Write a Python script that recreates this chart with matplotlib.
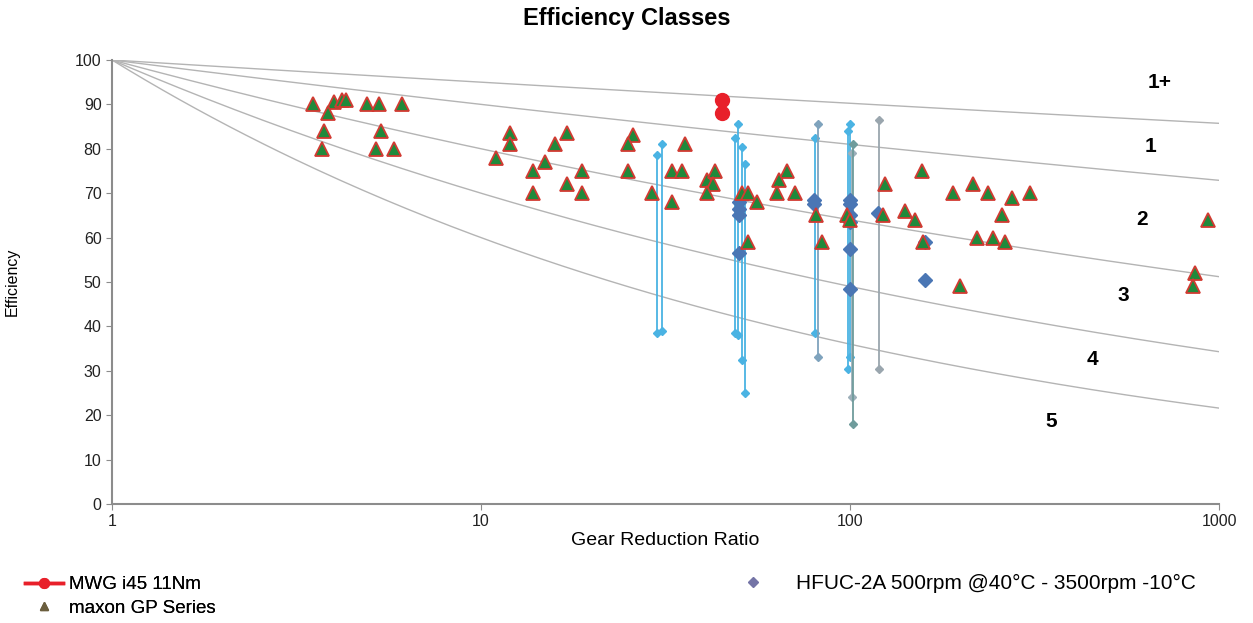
import numpy as np
import matplotlib
matplotlib.use("Agg")
import matplotlib.pyplot as plt
from matplotlib.lines import Line2D

plt.rcParams['font.family'] = ['Liberation Sans', 'DejaVu Sans']

# efficiency classes: efficiency kept per decade of reduction
class_names = ['1+', '1', '2', '3', '4', '5']
class_per_decade = [0.95, 0.90, 0.80, 0.70, 0.60]
class_label_x = [690, 650, 620, 550, 455, 350]
class_label_y = [95, 80.5, 64, 47, 32.5, 18.5]

# MWG i45 11Nm
mwg_ratio = [45, 45]
mwg_eff = [91, 88]

# maxon GP Series
maxon_ratio = [3.5, 4.0, 4.2, 4.3, 4.9, 5.3, 6.1, 3.85, 3.75, 3.7, 5.35, 5.2, 5.8,
               12, 12, 11, 13.8, 14.9, 15.9, 17.1, 18.8, 13.8, 17.1, 18.8,
               25.8, 25, 25, 29, 33, 35.7, 33, 35, 41, 43, 42.5, 41,
               51, 53, 56, 53, 67.5, 64, 63.5, 71, 81, 84, 98, 100,
               124, 123, 141, 150, 158, 157, 190, 215, 237, 275, 308,
               258, 221, 244, 263, 199, 933, 861, 850]
maxon_eff = [90, 90.5, 91, 91, 90, 90, 90, 88, 84, 80, 84, 80, 80,
             83.5, 81, 78, 75, 77, 81, 83.5, 75, 70, 72, 70,
             83, 81, 75, 70, 68, 81, 75, 75, 73, 75, 72, 70,
             70, 70, 68, 59, 75, 73, 70, 70, 65, 59, 65, 64,
             72, 65, 66, 64, 59, 75, 70, 72, 70, 69, 70,
             65, 60, 60, 59, 49, 64, 52, 49]

# HFUC ranges (top: 500rpm @40°C, bottom: 3500rpm -10°C)
hfuc_range_ratio = [30, 31, 48.8, 49.7, 51, 52, 80.4, 82, 99, 100, 101, 102, 120]
hfuc_range_top = [78.5, 81, 82.5, 85.5, 80.5, 76.5, 82.5, 85.5, 84, 85.5, 79, 81, 86.5]
hfuc_range_bottom = [38.5, 39, 38.5, 38, 32.5, 25, 38.5, 33, 30.5, 33, 24, 18, 30.5]
hfuc_range_color = ['#4ab3e3', '#4ab3e3', '#4ab3e3', '#4ab3e3', '#4ab3e3', '#4ab3e3',
                    '#4ab3e3', '#7fa3bd', '#4ab3e3', '#4ab3e3', '#9eb0ba', '#6f9c9c', '#9aa6ae']

# HFUC-2A
hfuc2a_ratio = [50, 50, 50, 50, 80, 80, 100, 100, 100, 100, 100, 100, 119, 160, 160]
hfuc2a_eff = [68, 66.5, 65, 56.5, 68.5, 67.5, 68.5, 67.5, 65, 63.5, 57.5, 48.5, 65.5, 59, 50.5]

fig = plt.figure(figsize=(12.53, 6.23), dpi=100)
ax = fig.add_axes([0.0894, 0.191, 0.8835, 0.7127])

xs = np.logspace(0, 3, 200)
for q in class_per_decade:
    ax.plot(xs, 100 * q ** np.log10(xs), color='#b4b4b4', lw=1, zorder=1)

for r, t, b, c in zip(hfuc_range_ratio, hfuc_range_top, hfuc_range_bottom, hfuc_range_color):
    ax.plot([r, r], [t, b], color=c, lw=1.3, marker='D', ms=4.5, zorder=2)

ax.plot(hfuc2a_ratio, hfuc2a_eff, ls='none', marker='D', ms=7.5, color='#4a76b4', zorder=3)

ax.plot(maxon_ratio, maxon_eff, ls='none', marker='^', ms=10, mfc='#1f8a3b',
        mec='#d23a32', mew=1.3, zorder=4)

ax.plot(mwg_ratio, mwg_eff, color='#e8202a', lw=2, marker='o', ms=10, zorder=5)

for name, lx, ly in zip(class_names, class_label_x, class_label_y):
    ax.text(lx, ly, name, fontsize=15, fontweight='bold', ha='center', va='center')

ax.set_xscale('log')
ax.set_xlim(1, 1000)
ax.set_ylim(0, 100)
ax.set_yticks(range(0, 101, 10))
ax.set_xticks([1, 10, 100, 1000])
ax.set_xticklabels(['1', '10', '100', '1000'])
ax.minorticks_off()
for s in ['top', 'right']:
    ax.spines[s].set_visible(False)
for s in ['left', 'bottom']:
    ax.spines[s].set_color('#8c8c8c')
    ax.spines[s].set_linewidth(1.5)
ax.tick_params(axis='both', colors='#8c8c8c', labelcolor='#222222', labelsize=11.5, length=4)

ax.set_xlabel('Gear Reduction Ratio', fontsize=14, labelpad=2)
ax.set_ylabel('Efficiency', fontsize=11.5)
ax.yaxis.set_label_coords(-0.083, 0.5)
fig.text(0.5, 0.971, 'Efficiency Classes', fontsize=17, fontweight='bold',
         ha='center', va='center')

h1 = Line2D([], [], color='#e8202a', lw=2.5, marker='o', ms=7)
h2 = Line2D([], [], ls='none', marker='^', ms=6, color='#6b5e3e')
h3 = Line2D([], [], ls='none', marker='D', ms=5, color='#7474a6')
leg1 = fig.legend([h1, h2], ['MWG i45 11Nm', 'maxon GP Series'], loc='upper left',
                  bbox_to_anchor=(0.02, 0.075), frameon=False, fontsize=13.5,
                  handlelength=2.0, labelspacing=0.33, borderaxespad=0, borderpad=0,
                  handletextpad=0.35)
leg2 = fig.legend([h3], ['HFUC-2A 500rpm @40°C - 3500rpm -10°C'], loc='upper left',
                  bbox_to_anchor=(0.593, 0.078), frameon=False, fontsize=15,
                  handlelength=0.95, borderaxespad=0, borderpad=0, handletextpad=1.6)
fig.add_artist(leg1)

fig.savefig('out.png', dpi=100)
